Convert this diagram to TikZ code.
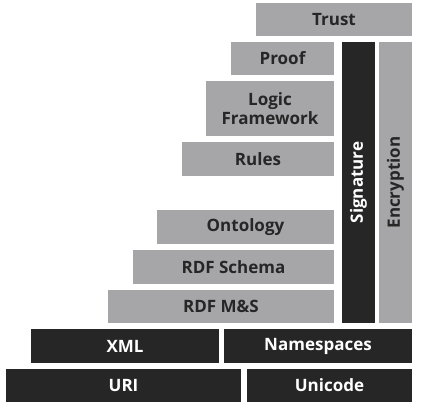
\documentclass[tikz,border=0pt]{standalone}
\usepackage{fontspec}
\setmainfont{Open Sans}
\usepackage{tikz}
\definecolor{layergray}{HTML}{A6A6A8}
\definecolor{layerdark}{HTML}{262626}

\begin{document}
\begin{tikzpicture}[x=1pt,y=-1pt,inner sep=0pt,
	font=\fontsize{17}{19}\selectfont\bfseries]
	\tikzstyle{lite}=[fill=layergray,text=layerdark,align=center]
	\tikzstyle{dark}=[fill=layerdark,text=white,align=center]
	\useasboundingbox (0,0) rectangle (431,407);
	\node[lite,minimum width=156,minimum height=33] (trust)    at (334,19.5)   {Trust};
	\node[lite,minimum width=103,minimum height=33] (proof)    at (282.5,58.5) {Proof};
	\node[lite,minimum width=128,minimum height=55] (logic)    at (270,108.5)  {Logic\\Framework};
	\node[lite,minimum width=152,minimum height=34] (rules)    at (258,159)    {Rules};
	\node[lite,minimum width=177,minimum height=34] (ontology) at (245.5,227)  {Ontology};
	\node[lite,minimum width=201,minimum height=34] (schema)   at (233.5,267)  {RDF Schema};
	\node[lite,minimum width=226,minimum height=33] (rdfms)    at (221,306.5)  {RDF M\&S};
	
	\node[dark,rotate=90,minimum width=281,minimum height=33] (sign)  at (358.5,182.5) {Signature};
	\node[lite,rotate=90,minimum width=281,minimum height=33] (crypt) at (395.5,182.5) {Encryption};
	
	\node[dark,minimum width=188,minimum height=34] (xml)     at (125,346)    {XML};
	\node[dark,minimum width=188,minimum height=34] (ns)      at (318,346)    {Namespaces};
	\node[dark,minimum width=235,minimum height=33] (uri)     at (123.5,385.5) {URI};
	\node[dark,minimum width=165,minimum height=33] (unicode) at (329.5,385.5) {Unicode};
\end{tikzpicture}
\end{document}
